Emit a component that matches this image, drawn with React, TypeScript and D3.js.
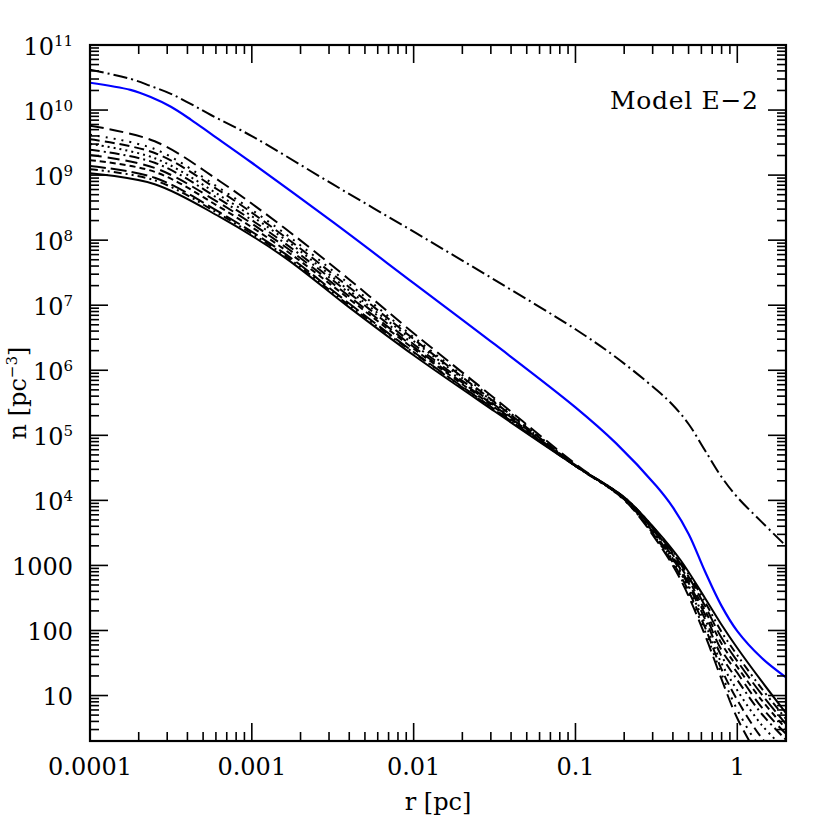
import React from "react";
import * as d3 from "d3";

// radius grid (pc) for the bundle of black profiles
const radiusBundle = [1e-4, 2.512e-4, 6.31e-4, 1.585e-3, 3.98e-3, 0.01, 0.0316, 0.1, 0.1995, 0.316, 0.4467, 0.631, 0.794, 1, 1.413, 2];
// log10 density for each black profile (bottom to top at small r)
const logN0 = [9.03, 8.86, 8.36, 7.74, 6.97, 6.23, 5.37, 4.53, 4.05, 3.54, 3.08, 2.50, 2.10, 1.73, 1.22, 0.73];
const logN1 = [9.09, 8.92, 8.40, 7.77, 7.00, 6.27, 5.39, 4.53, 4.05, 3.53, 3.05, 2.44, 1.99, 1.62, 1.11, 0.64];
const logN2 = [9.14, 8.96, 8.43, 7.80, 7.03, 6.28, 5.40, 4.53, 4.04, 3.51, 3.02, 2.38, 1.90, 1.53, 1.02, 0.56];
const logN3 = [9.23, 9.05, 8.51, 7.86, 7.10, 6.33, 5.43, 4.53, 4.04, 3.50, 2.98, 2.31, 1.81, 1.44, 0.93, 0.49];
const logN4 = [9.31, 9.11, 8.57, 7.91, 7.14, 6.36, 5.45, 4.53, 4.04, 3.48, 2.94, 2.25, 1.71, 1.35, 0.82, 0.41];
const logN5 = [9.39, 9.19, 8.63, 7.96, 7.19, 6.40, 5.47, 4.53, 4.02, 3.45, 2.91, 2.18, 1.62, 1.24, 0.72, 0.32];
const logN6 = [9.48, 9.26, 8.69, 8.02, 7.23, 6.45, 5.50, 4.54, 4.02, 3.44, 2.88, 2.11, 1.51, 1.08, 0.55, 0.16];
const logN7 = [9.55, 9.34, 8.76, 8.06, 7.28, 6.48, 5.51, 4.54, 4.02, 3.42, 2.84, 2.05, 1.42, 0.93, 0.35, -0.07];
const logN8 = [9.62, 9.40, 8.80, 8.11, 7.33, 6.51, 5.54, 4.54, 4.01, 3.41, 2.81, 1.99, 1.35, 0.78, 0.16, -0.30];
const logN9 = [9.76, 9.52, 8.91, 8.19, 7.40, 6.57, 5.57, 4.56, 4.01, 3.39, 2.78, 1.93, 1.27, 0.65, -0.02, -0.61];
const bundle = [logN0, logN1, logN2, logN3, logN4, logN5, logN6, logN7, logN8, logN9];
const bundleDash = ["none", "8,4,2,4,2,4", "16,5", "6,4", "12,6", "10,4,2,4", "2,4", "10,5", "2,6", "14,6"];

// radius grid for blue and dash-dot profiles
const radiusFine = [1e-4, 1.778e-4, 2.371e-4, 3.162e-4, 4.217e-4, 5.623e-4, 1e-3, 3.162e-3, 0.01, 0.03162, 0.1, 0.1778, 0.3162, 0.3981, 0.5012, 0.631, 0.7943, 1, 1.413, 2];
const logNBlue = [10.42, 10.31, 10.20, 10.05, 9.85, 9.63, 9.19, 8.28, 7.34, 6.40, 5.43, 4.88, 4.22, 3.90, 3.48, 2.91, 2.39, 1.99, 1.58, 1.28];
const logNDashDot = [10.62, 10.48, 10.37, 10.25, 10.09, 9.92, 9.60, 8.86, 8.13, 7.39, 6.63, 6.20, 5.70, 5.47, 5.17, 4.77, 4.37, 4.05, 3.67, 3.30];

const xTickValues = [1e-4, 1e-3, 1e-2, 1e-1, 1];
const xTickLabels = ["0.0001", "0.001", "0.01", "0.1", "1"];
const yTickExps = [11, 10, 9, 8, 7, 6, 5, 4, 3, 2, 1];
const yTickPlain: Record<number, string> = { 3: "1000", 2: "100", 1: "10" };

const X0 = 90, X1 = 786, Y0 = 45, Y1 = 741;
const FONT = "DejaVu Serif";

export default function App() {
  const x = d3.scaleLog().domain([1e-4, 2]).range([X0, X1]);
  const y = d3.scaleLog().domain([2, 1e11]).range([Y1, Y0]);
  const line = d3
    .line<[number, number]>()
    .x((d) => x(d[0]))
    .y((d) => y(Math.pow(10, d[1])))
    .curve(d3.curveCatmullRom.alpha(0.5));

  const xMinor: number[] = [];
  for (let e = -4; e <= 0; e++) for (let m = 2; m <= 9; m++) {
    const v = m * Math.pow(10, e);
    if (v < 2) xMinor.push(v);
  }
  const yMinor: number[] = [];
  for (let e = 0; e <= 10; e++) for (let m = 2; m <= 9; m++) {
    const v = m * Math.pow(10, e);
    if (v > 2 && v < 1e11) yMinor.push(v);
  }
  const MAJ = 18, MIN = 9;

  return (
    <svg width={830} height={830} style={{ position: "absolute", left: 0, top: 0, background: "#fff" }}
      fontFamily={FONT}>
      <defs>
        <clipPath id="plot">
          <rect x={X0} y={Y0} width={X1 - X0} height={Y1 - Y0} />
        </clipPath>
      </defs>
      <g clipPath="url(#plot)" fill="none">
        {bundle.map((arr, i) => (
          <path key={i} d={line(radiusBundle.map((r, k) => [r, arr[k]] as [number, number])) || ""}
            stroke="#000" strokeWidth={2} strokeDasharray={bundleDash[i]} />
        ))}
        <path d={line(radiusFine.map((r, k) => [r, logNBlue[k]] as [number, number])) || ""}
          stroke="#0000ff" strokeWidth={2.2} />
        <path d={line(radiusFine.map((r, k) => [r, logNDashDot[k]] as [number, number])) || ""}
          stroke="#000" strokeWidth={2} strokeDasharray="14,4,2,4" />
      </g>
      {/* ticks */}
      <g stroke="#000" strokeWidth={1.6}>
        {xTickValues.map((v) => (
          <g key={"xm" + v}>
            <line x1={x(v)} x2={x(v)} y1={Y1} y2={Y1 - MAJ} />
            <line x1={x(v)} x2={x(v)} y1={Y0} y2={Y0 + MAJ} />
          </g>
        ))}
        {xMinor.map((v) => (
          <g key={"xn" + v}>
            <line x1={x(v)} x2={x(v)} y1={Y1} y2={Y1 - MIN} />
            <line x1={x(v)} x2={x(v)} y1={Y0} y2={Y0 + MIN} />
          </g>
        ))}
        {yTickExps.map((e) => (
          <g key={"ym" + e}>
            <line x1={X0} x2={X0 + MAJ} y1={y(Math.pow(10, e))} y2={y(Math.pow(10, e))} />
            <line x1={X1} x2={X1 - MAJ} y1={y(Math.pow(10, e))} y2={y(Math.pow(10, e))} />
          </g>
        ))}
        {yMinor.map((v) => (
          <g key={"yn" + v}>
            <line x1={X0} x2={X0 + MIN} y1={y(v)} y2={y(v)} />
            <line x1={X1} x2={X1 - MIN} y1={y(v)} y2={y(v)} />
          </g>
        ))}
      </g>
      <rect x={X0} y={Y0} width={X1 - X0} height={Y1 - Y0} fill="none" stroke="#000" strokeWidth={2.2} />
      {/* x tick labels */}
      {xTickValues.map((v, i) => (
        <text key={"xl" + v} x={x(v)} y={775} textAnchor="middle" fontSize={24}>{xTickLabels[i]}</text>
      ))}
      {/* y tick labels */}
      {yTickExps.map((e) => {
        const ty = y(Math.pow(10, e)) + 9.5;
        if (yTickPlain[e]) {
          return <text key={"yl" + e} x={73} y={ty} textAnchor="end" fontSize={24}>{yTickPlain[e]}</text>;
        }
        return (
          <text key={"yl" + e} x={73} y={ty} textAnchor="end" fontSize={24}>
            10<tspan fontSize={15} dy={-9}>{String(e)}</tspan>
          </text>
        );
      })}
      <text x={(X0 + X1) / 2} y={810} textAnchor="middle" fontSize={24}>r [pc]</text>
      <text transform={`translate(26,${(Y0 + Y1) / 2}) rotate(-90)`} textAnchor="middle" fontSize={24}>
        n [pc<tspan fontSize={15} dy={-9}>−3</tspan><tspan dy={9}>]</tspan>
      </text>
      <text x={610} y={109} fontSize={25} textLength={148} lengthAdjust="spacing">Model E−2</text>
    </svg>
  );
}
